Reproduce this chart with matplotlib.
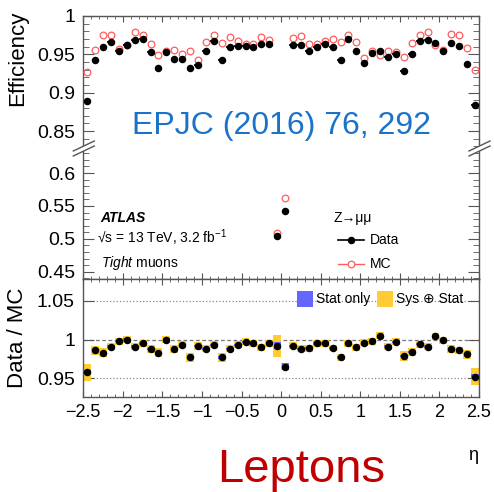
import matplotlib
matplotlib.use("Agg")
import matplotlib.pyplot as plt
import numpy as np
from matplotlib.lines import Line2D
from matplotlib.patches import Rectangle, Polygon
from matplotlib.ticker import MultipleLocator, FuncFormatter

plt.rcParams["font.family"] = ["Liberation Sans", "DejaVu Sans"]
plt.rcParams["mathtext.fontset"] = "custom"
plt.rcParams["mathtext.rm"] = "Liberation Sans"
plt.rcParams["mathtext.it"] = "Liberation Sans:italic"
plt.rcParams["mathtext.bf"] = "Liberation Sans:bold"

# eta binning: 50 bins of width 0.1
eta_edges = np.linspace(-2.5, 2.5, 51)
eta = 0.5 * (eta_edges[:-1] + eta_edges[1:])

eff_data = [0.889, 0.943, 0.960, 0.966, 0.954, 0.962, 0.969, 0.970, 0.953, 0.932,
            0.953, 0.944, 0.944, 0.932, 0.936, 0.954, 0.968, 0.943, 0.960, 0.961,
            0.961, 0.959, 0.964, 0.964, 0.505, 0.542, 0.962, 0.962, 0.954, 0.960,
            0.963, 0.959, 0.943, 0.970, 0.955, 0.939, 0.952, 0.954, 0.946, 0.950,
            0.928, 0.950, 0.968, 0.969, 0.965, 0.955, 0.965, 0.961, 0.938, 0.884]

eff_mc = [0.927, 0.956, 0.975, 0.975, 0.957, 0.962, 0.979, 0.975, 0.964, 0.949,
          0.954, 0.956, 0.951, 0.954, 0.943, 0.966, 0.975, 0.965, 0.972, 0.968,
          0.964, 0.964, 0.973, 0.969, 0.509, 0.562, 0.971, 0.974, 0.964, 0.964,
          0.968, 0.970, 0.966, 0.975, 0.966, 0.945, 0.955, 0.949, 0.954, 0.953,
          0.947, 0.965, 0.975, 0.979, 0.962, 0.956, 0.977, 0.975, 0.958, 0.929]

ratio = [0.958, 0.986, 0.983, 0.991, 0.998, 1.000, 0.991, 0.995, 0.988, 0.983,
         1.000, 0.988, 0.993, 0.977, 0.992, 0.988, 0.993, 0.977, 0.988, 0.993,
         0.997, 0.995, 0.990, 0.995, 0.992, 0.965, 0.992, 0.988, 0.989, 0.995,
         0.995, 0.989, 0.977, 0.995, 0.990, 0.996, 0.998, 1.005, 0.991, 0.997,
         0.979, 0.984, 0.994, 0.991, 1.004, 0.999, 0.988, 0.986, 0.981, 0.952]

err_stat = [0.003, 0.0015, 0.0015, 0.0015, 0.0015, 0.0015, 0.0015, 0.0015, 0.0015, 0.0015,
            0.0015, 0.0015, 0.0015, 0.0015, 0.0015, 0.0015, 0.0015, 0.0015, 0.0015, 0.0015,
            0.0015, 0.0015, 0.0015, 0.0015, 0.0045, 0.0045, 0.0015, 0.0015, 0.0015, 0.0015,
            0.0015, 0.0015, 0.0015, 0.0015, 0.0015, 0.0015, 0.0015, 0.0015, 0.0015, 0.0015,
            0.0015, 0.0015, 0.0015, 0.0015, 0.0015, 0.0015, 0.0015, 0.0015, 0.0015, 0.003]

err_tot = [0.011, 0.0055, 0.0055, 0.005, 0.0045, 0.0045, 0.005, 0.0045, 0.005, 0.006,
           0.0045, 0.005, 0.0045, 0.006, 0.005, 0.0045, 0.0045, 0.0055, 0.0045, 0.0045,
           0.0045, 0.0045, 0.0045, 0.0045, 0.014, 0.0045, 0.0045, 0.0045, 0.0045, 0.004,
           0.004, 0.004, 0.0045, 0.0045, 0.0045, 0.0045, 0.0045, 0.0045, 0.0045, 0.0045,
           0.006, 0.005, 0.0045, 0.0045, 0.0045, 0.0045, 0.005, 0.005, 0.0055, 0.011]

W, H = 494, 492
fig = plt.figure(figsize=(W / 100, H / 100), dpi=100)


def fx(x):
    return x / W


def fy(y):
    return 1 - y / H


def px_axes(x0, y0, x1, y1):
    return fig.add_axes([fx(x0), fy(y1), (x1 - x0) / W, (y1 - y0) / H])


X0, X1 = 83.3, 479
ax_top = px_axes(X0, 16, X1, 148)
ax_mid = px_axes(X0, 148, X1, 279)
ax_rat = px_axes(X0, 279, X1, 397)

frame_col = "#555555"
fmt_g = FuncFormatter(lambda v, p: f"{v:g}".replace("-", "\u2212"))

for ax in (ax_top, ax_mid, ax_rat):
    ax.set_xlim(-2.5, 2.5)
    for sp in ax.spines.values():
        sp.set_color(frame_col)
        sp.set_linewidth(1.0)
    ax.xaxis.set_major_locator(MultipleLocator(0.5))
    ax.xaxis.set_minor_locator(MultipleLocator(0.1))
    ax.xaxis.set_major_formatter(fmt_g)
    ax.yaxis.set_major_formatter(fmt_g)
    ax.tick_params(which="both", direction="in", top=True, right=True,
                   colors=frame_col, labelcolor="black")
    ax.tick_params(axis="x", which="major", length=4, labelsize=13)
    ax.tick_params(axis="x", which="minor", length=2)
    ax.tick_params(axis="y", which="major", length=8, labelsize=14, pad=6)
    ax.tick_params(axis="y", which="minor", length=4)
    ax.tick_params(axis="x", labelbottom=False)

ax_top.set_ylim(0.828, 1.0)
ax_mid.set_ylim(0.439, 0.638)
ax_rat.set_ylim(0.926, 1.078)
for ax in (ax_top, ax_mid):
    ax.yaxis.set_major_locator(MultipleLocator(0.05))
    ax.yaxis.set_minor_locator(MultipleLocator(0.01))
ax_rat.yaxis.set_major_locator(MultipleLocator(0.05))
ax_rat.tick_params(axis="y", which="minor", left=False, right=False)

# broken axis: hide the shared edge between the two efficiency pads
ax_top.spines["bottom"].set_visible(False)
ax_top.tick_params(which="both", bottom=False)
ax_mid.spines["top"].set_visible(False)
ax_mid.tick_params(which="both", top=False)
ax_rat.tick_params(axis="x", labelbottom=True, pad=5)

# efficiencies
for ax in (ax_top, ax_mid):
    ax.plot(eta, eff_mc, "o", mfc="none", mec="#ff5c5c", ms=4.8, mew=0.9, zorder=3)
    ax.errorbar(eta, eff_data, xerr=0.045, fmt="o", color="black", ms=4.4,
                elinewidth=1.2, capsize=0, zorder=4)

# ratio with uncertainty boxes
ratio_arr = np.array(ratio)
ax_rat.axhline(1.05, color="#888888", ls=":", lw=0.9, zorder=1)
ax_rat.axhline(0.95, color="#888888", ls=":", lw=0.9, zorder=1)
ax_rat.axhline(1.0, color="#777777", ls=(0, (3, 2)), lw=0.9, zorder=1)
ax_rat.bar(eta, 2 * np.array(err_tot), bottom=ratio_arr - np.array(err_tot),
           width=0.1, color="#ffcc33", lw=0, zorder=2)
ax_rat.bar(eta, 2 * np.array(err_stat), bottom=ratio_arr - np.array(err_stat),
           width=0.09, color="#6666ff", lw=0, zorder=3)
ax_rat.plot(eta, ratio, "o", color="black", ms=4.4, zorder=4)

# break marks on the y axes
for xb in (X0, X1):
    x_a, x_b = xb - 10, xb + 11
    band = Polygon([(fx(x_a), fy(151)), (fx(x_b), fy(141)),
                    (fx(x_b), fy(146)), (fx(x_a), fy(156))],
                   closed=True, transform=fig.transFigure, fc="white", ec="none",
                   zorder=10)
    fig.add_artist(band)
    for dy in (0, 5):
        fig.add_artist(Line2D([fx(x_a), fx(x_b)], [fy(151 + dy), fy(141 + dy)],
                              transform=fig.transFigure, color=frame_col, lw=1.0,
                              zorder=11))

# axis titles
fig.text(fx(18), fy(58), "Efficiency", rotation=90, ha="center", va="center",
         fontsize=16)
fig.text(fx(18), fy(338), "Data / MC", rotation=90, ha="center", va="center",
         fontsize=16)
fig.text(fx(473), fy(455), "\u03b7", ha="center", va="center", fontsize=13)

# labels in the lower efficiency pad
fig.text(fx(100), fy(221.7), "ATLAS", fontsize=10, fontweight="bold",
         style="italic", va="baseline")
fig.text(fx(97), fy(243), "\u221as = 13 TeV, 3.2 fb$^{-1}$", fontsize=10,
         va="baseline")
fig.text(fx(100.7), fy(266.7), r"$\mathit{Tight}$ muons", fontsize=10,
         va="baseline")
fig.text(fx(333), fy(222), "Z\u2192\u03bc\u03bc", fontsize=10, va="baseline")

fig.add_artist(Line2D([fx(338), fx(364)], [fy(240), fy(240)],
                      transform=fig.transFigure, color="black", lw=1.2))
fig.add_artist(Line2D([fx(351)], [fy(240)], transform=fig.transFigure,
                      marker="o", color="black", ms=4.4, ls="none"))
fig.text(fx(370), fy(240), "Data", fontsize=10, va="center")
fig.add_artist(Line2D([fx(338), fx(364)], [fy(264), fy(264)],
                      transform=fig.transFigure, color="#ff5c5c", lw=1.0))
fig.add_artist(Line2D([fx(351)], [fy(264)], transform=fig.transFigure,
                      marker="o", mfc="white", mec="#ff5c5c", mew=0.9, ms=4.8,
                      ls="none"))
fig.text(fx(370), fy(264), "MC", fontsize=10, va="center")

# ratio legend
fig.add_artist(Rectangle((fx(297), fy(307)), 16 / W, 16 / H,
                         transform=fig.transFigure, fc="#6666ff", ec="none"))
fig.text(fx(316), fy(299), "Stat only", fontsize=10, va="center")
fig.add_artist(Rectangle((fx(377), fy(307)), 16 / W, 16 / H,
                         transform=fig.transFigure, fc="#ffcc33", ec="none"))
fig.text(fx(396), fy(299), "Sys \u2295 Stat", fontsize=10, va="center")

# captions
fig.text(fx(281), fy(134), "EPJC (2016) 76, 292", fontsize=23, color="#1a73c8",
         ha="center", va="baseline")
fig.text(fx(301), fy(482), "Leptons", fontsize=34, color="#c00000",
         ha="center", va="baseline")

fig.savefig("out.png", dpi=100)
